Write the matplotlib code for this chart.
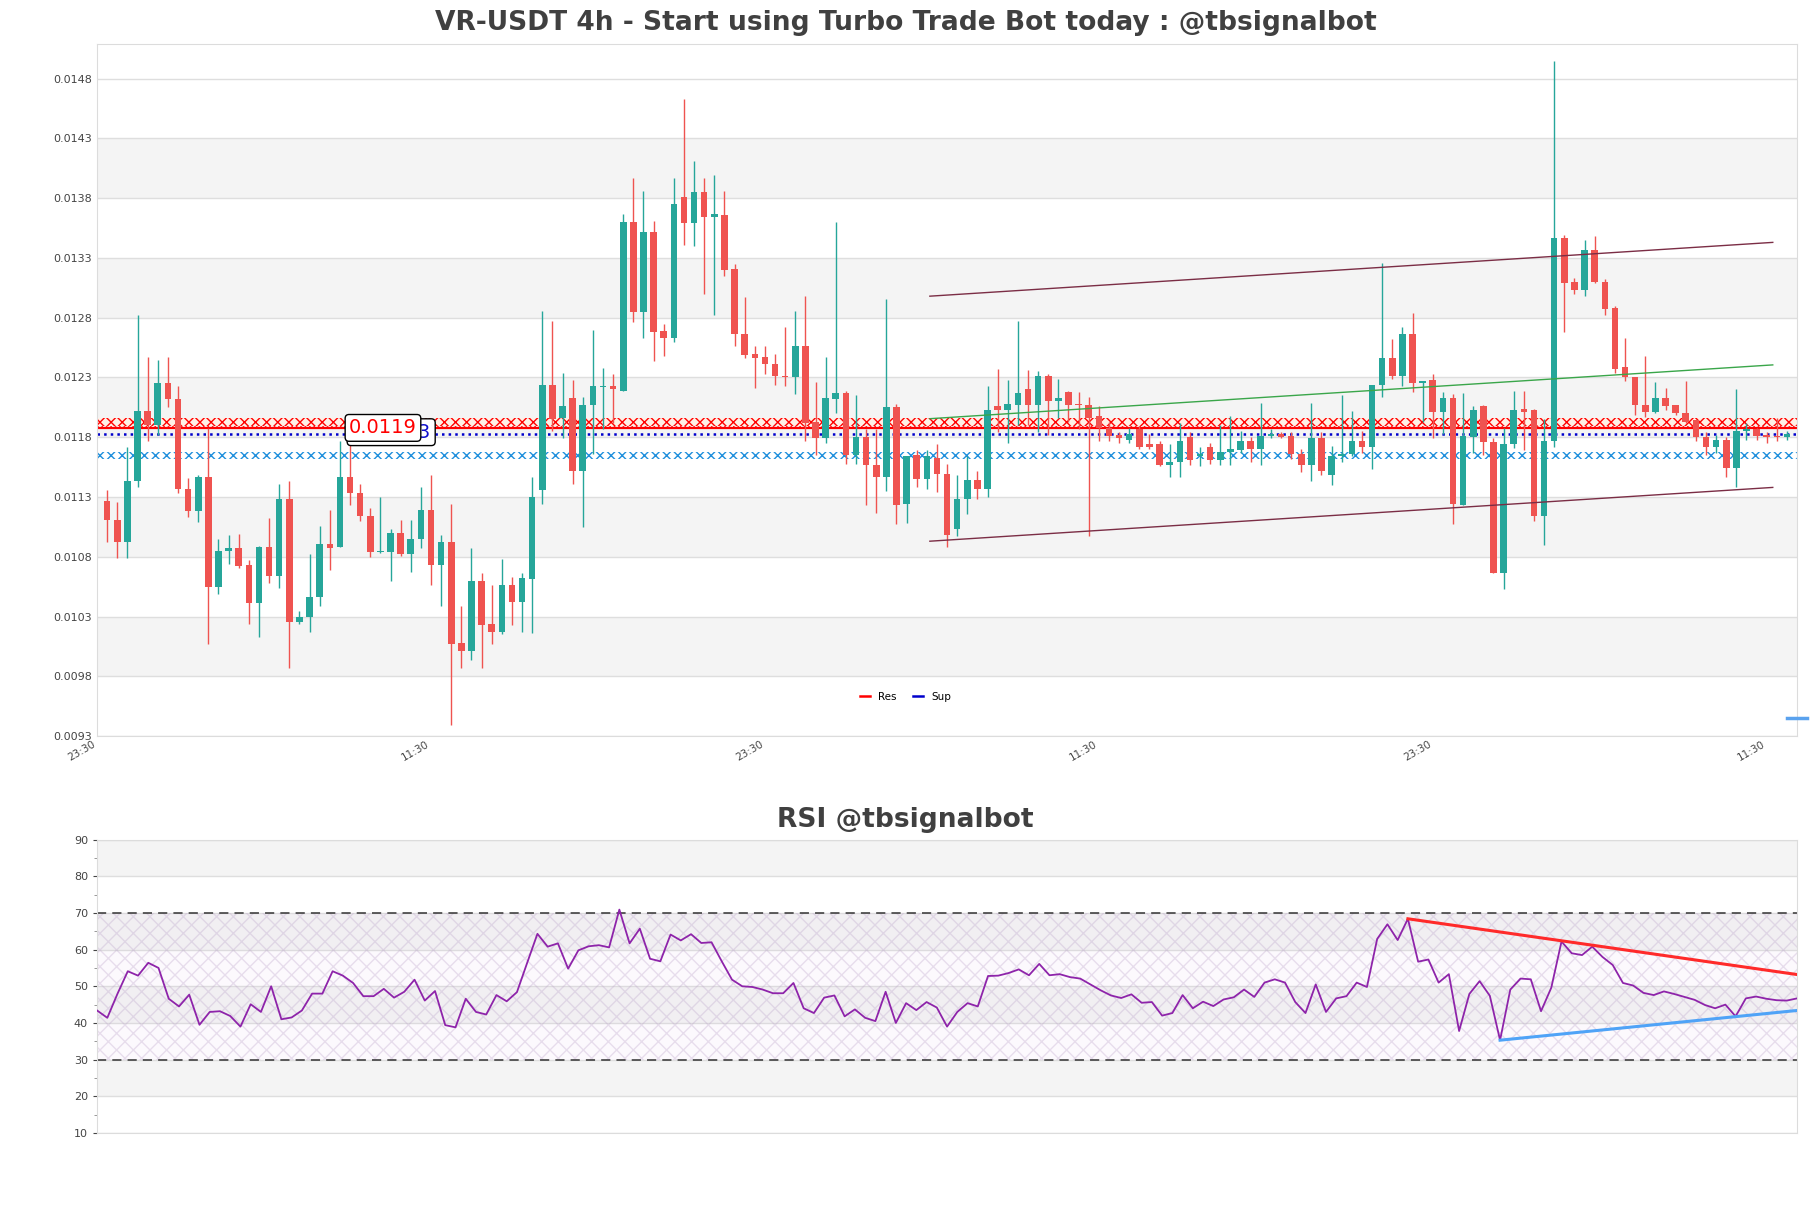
import matplotlib
matplotlib.use("Agg")
import matplotlib.pyplot as plt
from matplotlib.lines import Line2D
import numpy as np

# 4h candles
opens = [
    0.01127, 0.01111, 0.01092, 0.01143, 0.01202, 0.01190, 0.01225, 0.01212, 0.01137, 0.01118,
    0.01147, 0.01055, 0.01085, 0.01087, 0.01073, 0.01041, 0.01088, 0.01064, 0.01128, 0.01025,
    0.01030, 0.01046, 0.01091, 0.01088, 0.01147, 0.01133, 0.01114, 0.01084, 0.01084, 0.01100,
    0.01082, 0.01095, 0.01119, 0.01073, 0.01092, 0.01008, 0.01001, 0.01060, 0.01024, 0.01017,
    0.01056, 0.01042, 0.01061, 0.01136, 0.01224, 0.01196, 0.01213, 0.01152, 0.01207, 0.01222,
    0.01223, 0.01219, 0.01360, 0.01285, 0.01352, 0.01269, 0.01263, 0.01381, 0.01359, 0.01385,
    0.01364, 0.01366, 0.01321, 0.01266, 0.01250, 0.01247, 0.01241, 0.01231, 0.01230, 0.01256,
    0.01193, 0.01179, 0.01212, 0.01217, 0.01165, 0.01180, 0.01157, 0.01147, 0.01205, 0.01124,
    0.01165, 0.01145, 0.01163, 0.01149, 0.01103, 0.01128, 0.01144, 0.01137, 0.01206, 0.01203,
    0.01207, 0.01220, 0.01207, 0.01231, 0.01210, 0.01218, 0.01208, 0.01207, 0.01198, 0.01188,
    0.01182, 0.01178, 0.01187, 0.01174, 0.01174, 0.01157, 0.01159, 0.01180, 0.01164, 0.01172,
    0.01161, 0.01168, 0.01169, 0.01177, 0.01170, 0.01181, 0.01183, 0.01181, 0.01166, 0.01157,
    0.01179, 0.01148, 0.01164, 0.01166, 0.01177, 0.01172, 0.01224, 0.01246, 0.01231, 0.01266,
    0.01225, 0.01228, 0.01201, 0.01213, 0.01123, 0.01180, 0.01206, 0.01176, 0.01066, 0.01174,
    0.01204, 0.01203, 0.01114, 0.01177, 0.01347, 0.01310, 0.01303, 0.01337, 0.01310, 0.01288,
    0.01239, 0.01230, 0.01207, 0.01201, 0.01213, 0.01207, 0.01200, 0.01194, 0.01180, 0.01172,
    0.01178, 0.01154, 0.01185, 0.01187, 0.01182, 0.01181, 0.01180,
]
highs = [
    0.01136, 0.01126, 0.01172, 0.01282, 0.01247, 0.01245, 0.01247, 0.01223, 0.01146, 0.01148,
    0.01188, 0.01095, 0.01098, 0.01099, 0.01077, 0.01089, 0.01112, 0.01141, 0.01143, 0.01035,
    0.01082, 0.01106, 0.01119, 0.01177, 0.01187, 0.01141, 0.01121, 0.01130, 0.01103, 0.01111,
    0.01111, 0.01138, 0.01148, 0.01098, 0.01124, 0.01039, 0.01087, 0.01066, 0.01056, 0.01078,
    0.01063, 0.01066, 0.01147, 0.01286, 0.01277, 0.01234, 0.01228, 0.01214, 0.01270, 0.01238,
    0.01233, 0.01367, 0.01397, 0.01386, 0.01361, 0.01275, 0.01397, 0.01463, 0.01411, 0.01397,
    0.01399, 0.01386, 0.01325, 0.01297, 0.01256, 0.01256, 0.01250, 0.01272, 0.01286, 0.01298,
    0.01226, 0.01247, 0.01360, 0.01219, 0.01215, 0.01187, 0.01187, 0.01296, 0.01208, 0.01164,
    0.01169, 0.01169, 0.01174, 0.01158, 0.01148, 0.01164, 0.01152, 0.01223, 0.01237, 0.01228,
    0.01277, 0.01236, 0.01235, 0.01233, 0.01229, 0.01219, 0.01218, 0.01214, 0.01206, 0.01193,
    0.01184, 0.01188, 0.01189, 0.01183, 0.01177, 0.01174, 0.01192, 0.01184, 0.01172, 0.01175,
    0.01190, 0.01198, 0.01185, 0.01180, 0.01209, 0.01187, 0.01184, 0.01184, 0.01170, 0.01209,
    0.01184, 0.01173, 0.01215, 0.01202, 0.01185, 0.01224, 0.01326, 0.01262, 0.01272, 0.01284,
    0.01227, 0.01233, 0.01218, 0.01216, 0.01217, 0.01206, 0.01207, 0.01179, 0.01188, 0.01219,
    0.01219, 0.01204, 0.01195, 0.01495, 0.01349, 0.01313, 0.01345, 0.01348, 0.01312, 0.01290,
    0.01263, 0.01230, 0.01248, 0.01226, 0.01221, 0.01207, 0.01227, 0.01194, 0.01184, 0.01182,
    0.01180, 0.01220, 0.01192, 0.01188, 0.01184, 0.01196, 0.01185,
]
lows = [
    0.01092, 0.01079, 0.01079, 0.01138, 0.01177, 0.01182, 0.01205, 0.01133, 0.01113, 0.01109,
    0.01007, 0.01049, 0.01074, 0.01071, 0.01024, 0.01013, 0.01058, 0.01054, 0.00987, 0.01024,
    0.01017, 0.01039, 0.01069, 0.01088, 0.01123, 0.01110, 0.01080, 0.01083, 0.01060, 0.01081,
    0.01067, 0.01087, 0.01056, 0.01039, 0.00939, 0.00987, 0.00994, 0.00987, 0.01007, 0.01015,
    0.01023, 0.01017, 0.01016, 0.01124, 0.01185, 0.01179, 0.01141, 0.01105, 0.01166, 0.01187,
    0.01192, 0.01219, 0.01276, 0.01263, 0.01244, 0.01248, 0.01260, 0.01341, 0.01340, 0.01300,
    0.01282, 0.01315, 0.01256, 0.01246, 0.01221, 0.01233, 0.01224, 0.01223, 0.01216, 0.01177,
    0.01165, 0.01175, 0.01200, 0.01158, 0.01158, 0.01123, 0.01117, 0.01135, 0.01107, 0.01108,
    0.01138, 0.01137, 0.01134, 0.01088, 0.01097, 0.01116, 0.01128, 0.01130, 0.01184, 0.01175,
    0.01190, 0.01190, 0.01184, 0.01182, 0.01196, 0.01193, 0.01187, 0.01097, 0.01177, 0.01177,
    0.01175, 0.01175, 0.01170, 0.01170, 0.01156, 0.01147, 0.01147, 0.01157, 0.01156, 0.01158,
    0.01157, 0.01157, 0.01167, 0.01159, 0.01157, 0.01179, 0.01179, 0.01162, 0.01151, 0.01143,
    0.01148, 0.01140, 0.01159, 0.01164, 0.01167, 0.01153, 0.01214, 0.01229, 0.01223, 0.01218,
    0.01193, 0.01179, 0.01183, 0.01107, 0.01123, 0.01167, 0.01165, 0.01066, 0.01053, 0.01171,
    0.01169, 0.01110, 0.01090, 0.01172, 0.01268, 0.01300, 0.01298, 0.01309, 0.01282, 0.01234,
    0.01227, 0.01199, 0.01197, 0.01200, 0.01203, 0.01199, 0.01192, 0.01177, 0.01165, 0.01167,
    0.01147, 0.01138, 0.01178, 0.01178, 0.01175, 0.01177, 0.01178,
]
closes = [
    0.01111, 0.01092, 0.01143, 0.01202, 0.01190, 0.01225, 0.01212, 0.01137, 0.01118, 0.01147,
    0.01055, 0.01085, 0.01087, 0.01072, 0.01041, 0.01088, 0.01064, 0.01128, 0.01025, 0.01030,
    0.01046, 0.01091, 0.01087, 0.01147, 0.01133, 0.01114, 0.01084, 0.01085, 0.01100, 0.01082,
    0.01095, 0.01119, 0.01073, 0.01092, 0.01007, 0.01001, 0.01060, 0.01023, 0.01017, 0.01056,
    0.01042, 0.01062, 0.01130, 0.01224, 0.01195, 0.01206, 0.01152, 0.01207, 0.01223, 0.01223,
    0.01220, 0.01360, 0.01285, 0.01352, 0.01268, 0.01263, 0.01375, 0.01359, 0.01385, 0.01364,
    0.01367, 0.01320, 0.01266, 0.01249, 0.01246, 0.01241, 0.01231, 0.01230, 0.01256, 0.01192,
    0.01179, 0.01213, 0.01217, 0.01165, 0.01180, 0.01157, 0.01147, 0.01205, 0.01123, 0.01164,
    0.01145, 0.01164, 0.01149, 0.01098, 0.01128, 0.01144, 0.01137, 0.01203, 0.01203, 0.01208,
    0.01217, 0.01207, 0.01231, 0.01210, 0.01213, 0.01207, 0.01207, 0.01196, 0.01188, 0.01181,
    0.01179, 0.01183, 0.01172, 0.01172, 0.01157, 0.01159, 0.01177, 0.01161, 0.01166, 0.01161,
    0.01168, 0.01170, 0.01177, 0.01170, 0.01181, 0.01183, 0.01180, 0.01166, 0.01157, 0.01179,
    0.01152, 0.01164, 0.01166, 0.01177, 0.01172, 0.01224, 0.01246, 0.01231, 0.01266, 0.01225,
    0.01227, 0.01201, 0.01213, 0.01124, 0.01181, 0.01203, 0.01176, 0.01066, 0.01174, 0.01203,
    0.01201, 0.01114, 0.01177, 0.01347, 0.01309, 0.01303, 0.01337, 0.01310, 0.01287, 0.01237,
    0.01230, 0.01207, 0.01201, 0.01213, 0.01206, 0.01200, 0.01193, 0.01180, 0.01172, 0.01178,
    0.01154, 0.01185, 0.01187, 0.01181, 0.01180, 0.01180, 0.01183,
]

rsi = [
    43.4, 41.4, 48.0, 54.1, 52.9, 56.4, 55.0, 46.6, 44.5, 47.7,
    39.5, 43.0, 43.2, 41.9, 39.0, 45.1, 43.0, 50.0, 41.0, 41.5,
    43.4, 48.0, 48.0, 54.1, 52.9, 50.9, 47.3, 47.3, 49.3, 46.9,
    48.5, 51.8, 46.1, 48.7, 39.4, 38.8, 46.6, 43.0, 42.3, 47.6,
    45.9, 48.4, 56.4, 64.3, 60.8, 61.7, 54.8, 59.8, 60.9, 61.2,
    60.6, 70.9, 61.7, 65.7, 57.5, 56.8, 64.1, 62.5, 64.2, 61.8,
    62.0, 56.8, 51.8, 50.0, 49.8, 49.1, 48.1, 48.1, 50.9, 44.0,
    42.7, 46.9, 47.5, 41.8, 43.7, 41.4, 40.5, 48.5, 40.0, 45.4,
    43.5, 45.7, 44.2, 39.0, 43.0, 45.4, 44.5, 52.8, 52.9, 53.6,
    54.6, 53.0, 56.1, 53.0, 53.3, 52.5, 52.1, 50.5, 48.9, 47.5,
    46.8, 47.8, 45.5, 45.7, 42.0, 42.7, 47.6, 44.0, 45.8, 44.6,
    46.4, 47.0, 49.1, 47.1, 51.0, 51.9, 51.0, 45.7, 42.7, 50.5,
    43.0, 46.7, 47.3, 51.0, 49.8, 62.9, 66.9, 62.6, 68.4, 56.7,
    57.3, 51.0, 53.3, 37.8, 47.9, 51.4, 47.4, 35.3, 49.1, 52.1,
    51.9, 43.2, 49.6, 62.2, 59.0, 58.5, 60.8, 58.0, 55.8, 50.9,
    50.2, 48.2, 47.6, 48.6, 47.9, 47.1, 46.3, 44.9, 44.0, 45.0,
    41.8, 46.7, 47.2, 46.6, 46.2, 46.1, 46.7,
]

# support / resistance levels
res_zone = (0.011894, 0.011957)
sup_zone = (0.011615, 0.011677)
res_level = 0.011874
sup_level = 0.011825
res_text = "0.0119"
sup_text = "0.01183"

# regression channel (start bar, end bar) and prices
chan_x = [81.3, 164.6]
chan_upper = [0.01298, 0.01343]
chan_mid = [0.011955, 0.012405]
chan_lower = [0.01093, 0.01138]

# RSI trend lines
rsi_res_x, rsi_res_y = [128, 166], [68.4, 53.2]
rsi_sup_x, rsi_sup_y = [137, 166], [35.3, 43.4]

tick_labels = ["23:30", "11:30", "23:30", "11:30", "23:30", "11:30"]
price_ticks = [0.0093 + 0.0005 * k for k in range(12)]

up_col, down_col = "#26a69a", "#ef5350"
band_col = "#f4f4f4"
grid_col = "#dedede"
text_col = "#444444"
sup_col = "#0000cc"

n = len(opens)
x = np.arange(n)
o, h, l, c = map(np.array, (opens, highs, lows, closes))
col = np.where(c >= o, up_col, down_col)

fig = plt.figure(figsize=(18.11, 12.08), dpi=100)
ax = fig.add_axes([0.0536, 0.3907, 0.9387, 0.5729])
ax2 = fig.add_axes([0.0536, 0.0621, 0.9387, 0.2429])

# --- price panel
for lo in price_ticks[1::2][:5]:
    ax.axhspan(lo, lo + 0.0005, color=band_col, zorder=0, lw=0)
for t in price_ticks:
    ax.axhline(t, color=grid_col, lw=1, zorder=0.5)

ax.vlines(x, l, h, colors=col, lw=1, zorder=3)
ax.bar(x, np.maximum(np.abs(c - o), 0.000012), bottom=np.minimum(o, c),
       width=0.65, color=col, lw=0, zorder=3)

ax.axhspan(*res_zone, facecolor="#fff0e6", edgecolor="red", hatch="xxx", lw=0, zorder=2)
ax.axhspan(*sup_zone, facecolor="white", edgecolor="#1f8fdc", hatch="xxx", lw=0, zorder=2)
ax.axhline(res_level, color="red", lw=1.6, zorder=2.5)
ax.axhline(res_level + 0.000012, color="red", lw=1.2, ls=":", zorder=2.5)
ax.axhline(sup_level, color=sup_col, lw=1.8, ls=":", zorder=2.5)

ax.plot(chan_x, chan_upper, color="#7b2d45", lw=1, zorder=4)
ax.plot(chan_x, chan_lower, color="#7b2d45", lw=1, zorder=4)
ax.plot(chan_x, chan_mid, color="#3aa64a", lw=1, zorder=4)

box = dict(boxstyle="round,pad=0.2", fc="white", ec="black", lw=1)
ax.text(24.1, 0.011842, sup_text, color="#1010cc", fontsize=14, va="center",
        ha="left", bbox=box, zorder=5)
ax.text(23.9, 0.011878, res_text, color="red", fontsize=14, va="center",
        ha="left", bbox=box, zorder=6)

# stray piece of the RSI support line drawn past the right edge
ax.plot([166, 168], [0.00945, 0.00945], color="#5aa2ee", lw=2.5, clip_on=False, zorder=6)

ax.set_xlim(-1, n)
ax.set_ylim(0.0093, 0.01509)
ax.set_yticks(price_ticks)
ax.set_yticklabels([f"{t:.4f}" for t in price_ticks])
ax.set_xticks([-1 + 33 * k for k in range(len(tick_labels))])
ax.set_xticklabels(tick_labels, rotation=30, ha="right")
ax.tick_params(axis="both", labelsize=8, colors=text_col, length=0)
ax.tick_params(axis="x", labelsize=7.5, pad=2)
for s in ax.spines.values():
    s.set_color("#dcdcdc")
handles = [Line2D([], [], color="red", lw=1.8), Line2D([], [], color=sup_col, lw=1.8)]
ax.legend(handles, ["Res", "Sup"], loc="center", bbox_to_anchor=(0.4755, 0.057), ncol=2,
          frameon=False, fontsize=7.5, handlelength=1, columnspacing=1.5)
fig.text(0.5, 0.981, "VR-USDT 4h - Start using Turbo Trade Bot today : @tbsignalbot",
         ha="center", va="center", fontsize=19.1, fontweight="bold", color="#404040")

# --- RSI panel
for lo in (20, 40, 60, 80):
    ax2.axhspan(lo, lo + 10, color=band_col, zorder=0, lw=0)
for t in range(10, 91, 10):
    ax2.axhline(t, color=grid_col, lw=1, zorder=0.5)
ax2.axhspan(30, 70, facecolor=(0.85, 0.75, 0.9, 0.08), edgecolor=(0.72, 0.62, 0.78, 0.3),
            hatch="xx", lw=0, zorder=1)
ax2.axhline(70, color="#333333", lw=1.1, ls=(0, (6, 4)), zorder=2)
ax2.axhline(30, color="#333333", lw=1.1, ls=(0, (6, 4)), zorder=2)
ax2.plot(np.arange(len(rsi)), rsi, color="#8e24aa", lw=1.3, zorder=3)
ax2.plot(rsi_res_x, rsi_res_y, color="#ff2a2a", lw=2.2, zorder=4)
ax2.plot(rsi_sup_x, rsi_sup_y, color="#4fa3f7", lw=2.2, zorder=4)
ax2.set_xlim(0, len(rsi) - 1)
ax2.set_ylim(10, 90)
ax2.set_yticks(range(10, 91, 10))
ax2.set_yticks(range(15, 90, 10), minor=True)
ax2.set_xticks([])
ax2.tick_params(axis="y", labelsize=8, colors=text_col, length=3, width=0.8)
ax2.tick_params(axis="y", which="minor", length=2, colors="#888888")
for s in ax2.spines.values():
    s.set_color("#dcdcdc")
fig.text(0.5, 0.3212, "RSI @tbsignalbot", ha="center", va="center", fontsize=19.1,
         fontweight="bold", color="#404040")

fig.savefig("out.png", dpi=100)
